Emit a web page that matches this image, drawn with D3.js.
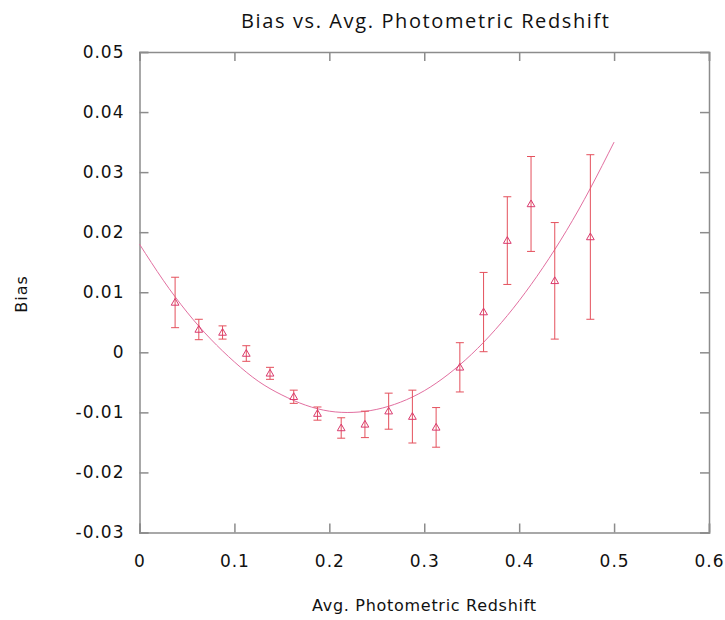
<!DOCTYPE html>
<html>
<head>
<meta charset="utf-8">
<script src="https://cdn.jsdelivr.net/npm/d3@7"></script>
<style>
  html, body { margin: 0; padding: 0; background: #fff; }
  svg { display: block; }
</style>
</head>
<body>
<svg id="chart" width="725" height="620"></svg>
<script>
// ---- data ----
const pointX = [0.0375, 0.0625, 0.0875, 0.1125, 0.1375, 0.1625, 0.1875, 0.2125, 0.2375,
                0.2625, 0.2875, 0.3125, 0.3375, 0.3625, 0.3875, 0.4125, 0.4375, 0.475];
const pointBias = [0.0083, 0.0038, 0.0033, -0.0002, -0.0035, -0.0074, -0.0102, -0.0126, -0.0120,
                   -0.0098, -0.0107, -0.0125, -0.0025, 0.0067, 0.0186, 0.0247, 0.0119, 0.0192];
const pointErr = [0.0042, 0.0017, 0.0011, 0.0013, 0.0010, 0.0011, 0.0011, 0.0017, 0.0022,
                  0.0030, 0.0044, 0.0033, 0.0041, 0.0066, 0.0073, 0.0079, 0.0097, 0.0137];
const fitX = [0, 0.025, 0.05, 0.075, 0.1, 0.125, 0.15, 0.175, 0.2, 0.225, 0.25,
              0.275, 0.3, 0.325, 0.35, 0.375, 0.4, 0.425, 0.45, 0.475, 0.5];
const fitBias = [0.0180, 0.0120, 0.0067, 0.0022, -0.0016, -0.0048, -0.0071, -0.0088, -0.0098, -0.0100, -0.0095,
                 -0.0083, -0.0064, -0.0037, -0.0003, 0.0038, 0.0086, 0.0141, 0.0203, 0.0273, 0.0350];
const xTicks = [0, 0.1, 0.2, 0.3, 0.4, 0.5, 0.6];
const xTickLabels = ["0", "0.1", "0.2", "0.3", "0.4", "0.5", "0.6"];
const yTicks = [-0.03, -0.02, -0.01, 0, 0.01, 0.02, 0.03, 0.04, 0.05];
const yTickLabels = ["-0.03", "-0.02", "-0.01", "0", "0.01", "0.02", "0.03", "0.04", "0.05"];
const titleText = "Bias vs. Avg. Photometric Redshift";
const xLabel = "Avg. Photometric Redshift";
const yLabel = "Bias";

// ---- layout ----
const svg = d3.select("#chart");
const L = 139.5, R = 709, T = 52, B = 532.5;
const x = d3.scaleLinear().domain([0, 0.6]).range([L, R]);
const y = d3.scaleLinear().domain([-0.03, 0.05]).range([B, T]);
const axisColor = "#8c8c8c";
const font = "'DejaVu Sans', Verdana, sans-serif";

const fmtY = v => yTickLabels[yTicks.indexOf(v)];
const fmtX = v => xTickLabels[xTicks.indexOf(v)];

// axes with inward ticks on all four sides
const tk = 9;
const gB = svg.append("g").attr("transform", `translate(0,${B})`)
  .call(d3.axisBottom(x).tickValues(xTicks).tickSize(-tk).tickPadding(22).tickFormat(fmtX));
const gT = svg.append("g").attr("transform", `translate(0,${T})`)
  .call(d3.axisTop(x).tickValues(xTicks).tickSize(-tk).tickFormat(""));
const gL = svg.append("g").attr("transform", `translate(${L},0)`)
  .call(d3.axisLeft(y).tickValues(yTicks).tickSize(-tk).tickPadding(15).tickFormat(fmtY));
const gR = svg.append("g").attr("transform", `translate(${R},0)`)
  .call(d3.axisRight(y).tickValues(yTicks).tickSize(-tk).tickFormat(""));
[gB, gT, gL, gR].forEach(g => {
  g.select(".domain").attr("stroke", axisColor).attr("stroke-width", 1.5);
  g.selectAll(".tick line").attr("stroke", axisColor).attr("stroke-width", 1.5);
  g.selectAll(".tick text").attr("fill", "#111").style("font-family", font).style("font-size", "17px")
    .attr("letter-spacing", "1px");
});

// fit curve
const line = d3.line().x((d, i) => x(fitX[i])).y((d, i) => y(fitBias[i])).curve(d3.curveNatural);
svg.append("path").datum(fitBias).attr("d", line)
  .attr("fill", "none").attr("stroke", "#e26fa0").attr("stroke-width", 1);

// error bars
const errColor = "#e4505c";
const cap = 4;
const eb = svg.append("g").selectAll("g").data(pointX).join("g");
eb.append("line")
  .attr("x1", (d, i) => x(pointX[i])).attr("x2", (d, i) => x(pointX[i]))
  .attr("y1", (d, i) => y(pointBias[i] + pointErr[i])).attr("y2", (d, i) => y(pointBias[i] - pointErr[i]))
  .attr("stroke", errColor).attr("stroke-width", 1);
eb.append("line")
  .attr("x1", (d, i) => x(pointX[i]) - cap).attr("x2", (d, i) => x(pointX[i]) + cap)
  .attr("y1", (d, i) => y(pointBias[i] + pointErr[i])).attr("y2", (d, i) => y(pointBias[i] + pointErr[i]))
  .attr("stroke", errColor).attr("stroke-width", 1);
eb.append("line")
  .attr("x1", (d, i) => x(pointX[i]) - cap).attr("x2", (d, i) => x(pointX[i]) + cap)
  .attr("y1", (d, i) => y(pointBias[i] - pointErr[i])).attr("y2", (d, i) => y(pointBias[i] - pointErr[i]))
  .attr("stroke", errColor).attr("stroke-width", 1);

// triangle markers
const tri = d3.symbol().type(d3.symbolTriangle).size(26);
svg.append("g").selectAll("path").data(pointX).join("path")
  .attr("d", tri)
  .attr("transform", (d, i) => `translate(${x(pointX[i])},${y(pointBias[i]) + 0.5})`)
  .attr("fill", "none").attr("stroke", "#d93a6e").attr("stroke-width", 1);

// title and labels
svg.append("text").attr("x", 425).attr("y", 28).attr("text-anchor", "middle")
  .attr("textLength", 368).attr("lengthAdjust", "spacing")
  .style("font-family", "'Open Sans', 'DejaVu Sans', sans-serif").style("font-size", "20px")
  .attr("fill", "#111").text(titleText);
svg.append("text").attr("x", 424).attr("y", 611).attr("text-anchor", "middle")
  .attr("textLength", 224).attr("lengthAdjust", "spacing")
  .style("font-family", font).style("font-size", "16px").attr("fill", "#111").text(xLabel);
svg.append("text").attr("transform", "translate(27,294) rotate(-90)").attr("text-anchor", "middle")
  .style("font-family", font).style("font-size", "16px").attr("letter-spacing", "1px")
  .attr("fill", "#111").text(yLabel);
</script>
</body>
</html>
